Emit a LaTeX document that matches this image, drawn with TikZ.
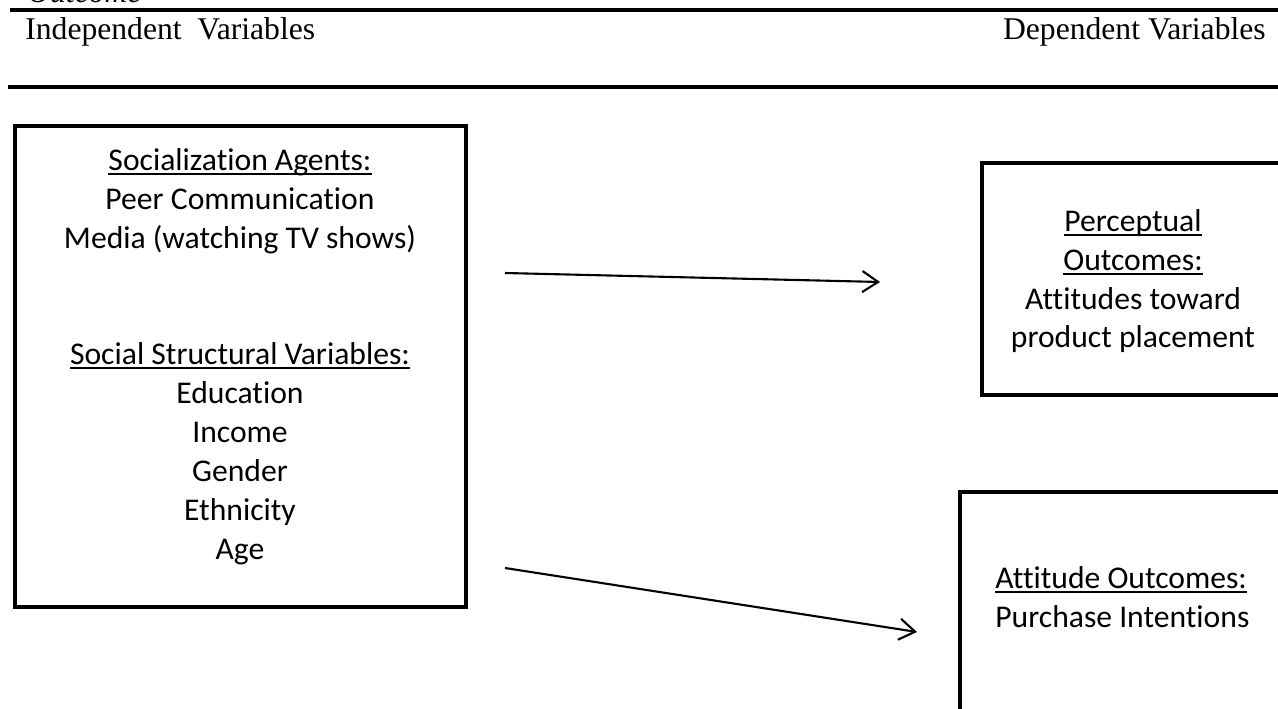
\documentclass[tikz,border=0pt]{standalone}
\usepackage{fontspec}
\setmainfont{Liberation Serif}
\newfontfamily\calibri[Ligatures=NoCommon]{Carlito}
\newcommand\ulx[1]{\begingroup\setbox0\hbox{#1}\leavevmode\rlap{\rule[-2.6pt]{\wd0}{1.1pt}}\box0\endgroup}
\usetikzlibrary{arrows.meta,fit}
\begin{document}
\begin{tikzpicture}[x=0.02cm,y=-0.02cm,
  rule/.style={line width=1.9pt},
  box/.style={draw,line width=2.7pt,inner sep=0pt},
  boxtext/.style={font=\calibri\fontsize{18}{22.1}\selectfont,inner sep=0pt},
  head/.style={font=\fontsize{18}{21}\selectfont,inner sep=0pt},
  conn/.style={line width=1.2pt,-{Straight Barb[length=9pt,width=12pt]}}]
\useasboundingbox (0,0) rectangle (1278,709);
% header
\node[head,anchor=base west,font=\itshape\fontsize{18}{21}\selectfont] (outc) at (27,3) {Outcome};
\draw[rule] (10,10) -- (1290,10);
\node[head,anchor=base west] (indep) at (25,40) {Independent\ \ Variables};
\node[head,anchor=base east] (dep) at (1266,40) {Dependent Variables};
\draw[rule] (8,87) -- (1290,87);
% boxes
\node[box,fit={(15,126) (466,607)}] (left) {};
\node[box,fit={(982,163) (1300,395)}] (perc) {};
\node[box,fit={(960,492) (1300,740)}] (att) {};
% texts (base anchor = baseline of last line)
\node[boxtext,align=center,anchor=base] (lefttext) at (240,559)
  {\ulx{Socialization Agents:}\\Peer Communication\\Media (watching TV shows)\\[44.2pt]
   \ulx{Social Structural Variables:}\\Education\\Income\\Gender\\Ethnicity\\Age};
\node[boxtext,align=center,anchor=base] (perctext) at (1133,348)
  {\ulx{Perceptual}\\\ulx{Outcomes:}\\Attitudes toward\\product placement};
\node[boxtext,align=left,anchor=base west] (atttext) at (995,627)
  {\ulx{Attitude Outcomes:}\\Purchase Intentions};
% connectors
\coordinate (a1s) at (505,273);
\coordinate (a1e) at (880,282);
\coordinate (a2s) at (505,568);
\coordinate (a2e) at (917,632);
\draw[conn] (a1s) -- (a1e);
\draw[conn] (a2s) -- (a2e);
\end{tikzpicture}
\end{document}
